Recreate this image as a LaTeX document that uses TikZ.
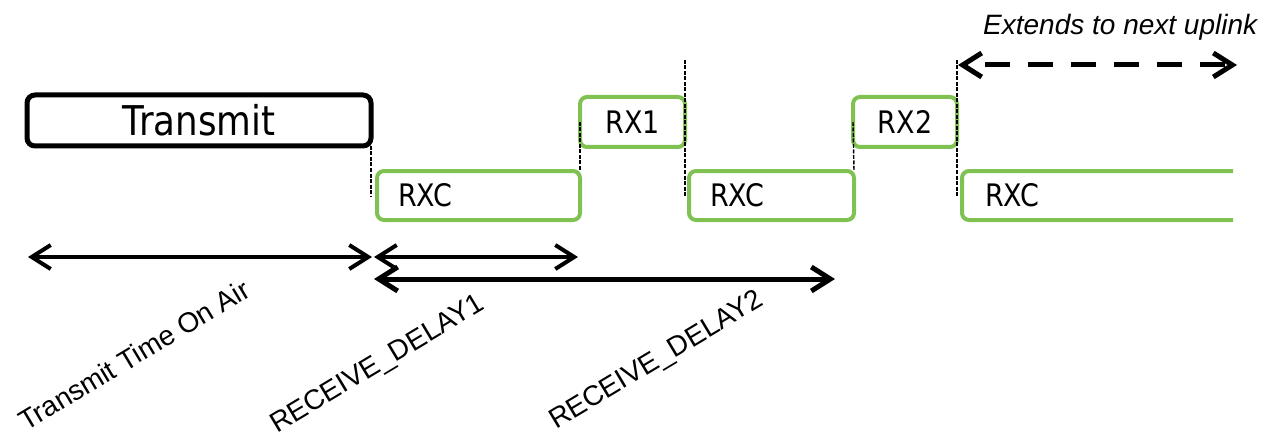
\documentclass[tikz,border=0pt]{standalone}
\usepackage{fontspec}
\setmainfont{Liberation Sans}
\newfontfamily\boxfont[FakeStretch=0.87]{DejaVu Sans}
\usetikzlibrary{arrows.meta}
\definecolor{rxgreen}{RGB}{128,194,82}
\begin{document}
\begin{tikzpicture}[x=1pt,y=-1pt,
  blackbox/.style={draw=black, line width=5pt, rounded corners=8pt, outer sep=0pt, inner sep=0pt,
    minimum width=344pt, minimum height=51pt, font=\boxfont\fontsize{41}{41}\selectfont},
  rxbox/.style={draw=rxgreen, line width=4pt, rounded corners=7pt, outer sep=0pt, inner sep=0pt,
    font=\boxfont\fontsize{31}{31}\selectfont},
  rxtext/.style={inner sep=0pt, outer sep=0pt, font=\boxfont\fontsize{31}{31}\selectfont},
  vline/.style={black, line width=1.4pt, dash pattern=on 4pt off 1.5pt},
  dimarrow/.style={line width=4.5pt, {Straight Barb[length=19pt,width=24pt]}-{Straight Barb[length=19pt,width=24pt]}},
  label/.style={font=\fontsize{28}{28}\selectfont, inner sep=0pt},
]
\useasboundingbox (0,0) rectangle (1269,433);

% Transmit
\node[blackbox] (tx) at (199,120.5) {Transmit};

% RX boxes
\node[rxbox, minimum width=203pt, minimum height=49pt, text width=161pt, inner xsep=21pt, align=left] (rxc1) at (478.5,195.5) {RXC};
\node[rxbox, minimum width=105pt, minimum height=50pt] (rx1) at (632.5,122) {RX1};
\node[rxbox, minimum width=165pt, minimum height=49pt, text width=123pt, inner xsep=21pt, align=left] (rxc2) at (771.5,195.5) {RXC};
\node[rxbox, minimum width=104pt, minimum height=50pt] (rx2) at (905,122) {RX2};
\node[rxtext, anchor=west] (rxc3) at (985,195.5) {RXC};
\coordinate (c3a) at (1233,171);
\coordinate (c3b) at (962,171);
\coordinate (c3c) at (962,220);
\coordinate (c3d) at (1233,220);
\draw[rxgreen, line width=4pt, rounded corners=7pt] (c3a) -- (c3b) -- (c3c) -- (c3d);

% dotted separators
\draw[vline] (tx.south east) -- ++(0,51);
\draw[vline] (rx1.west) -- (rxc1.north east);
\draw[vline] ([yshift=62pt]rx1.east) -- (rx1.east |- rxc2.center);
\draw[vline] (rx2.west) -- (rxc2.north east);
\draw[vline] ([yshift=62pt]rx2.east) -- (rx2.east |- rxc3.center);

% extends arrow
\node[font=\itshape\fontsize{28}{28}\selectfont, anchor=base west, inner sep=0pt] (ext) at (983,35) {Extends to next uplink};
\coordinate (e1) at (958,65);
\coordinate (e2) at (1237,65);
\draw[line width=5pt, dash pattern=on 25pt off 18pt, dash phase=-20pt,
  {Straight Barb[length=19pt,width=24pt]}-{Straight Barb[length=19pt,width=24pt]}] (e1) -- (e2);

% dimension arrows
\coordinate (a1l) at (28,257);
\coordinate (a1r) at (372,257);
\coordinate (a2l) at (374,257);
\coordinate (a2r) at (578,257);
\coordinate (a3l) at (374,279);
\coordinate (a3r) at (835,279);
\draw[dimarrow, line width=4pt] (a1l) -- (a1r);
\draw[dimarrow, line width=4pt] (a2l) -- (a2r);
\draw[dimarrow, line width=5pt] (a3l) -- (a3r);

% labels
\node[label, rotate=31] (l1) at (134,355) {Transmit Time On Air};
\node[label, rotate=31] (l2) at (378,365) {RECEIVE\_DELAY1};
\node[label, rotate=31] (l3) at (657,361) {RECEIVE\_DELAY2};
\end{tikzpicture}
\end{document}
